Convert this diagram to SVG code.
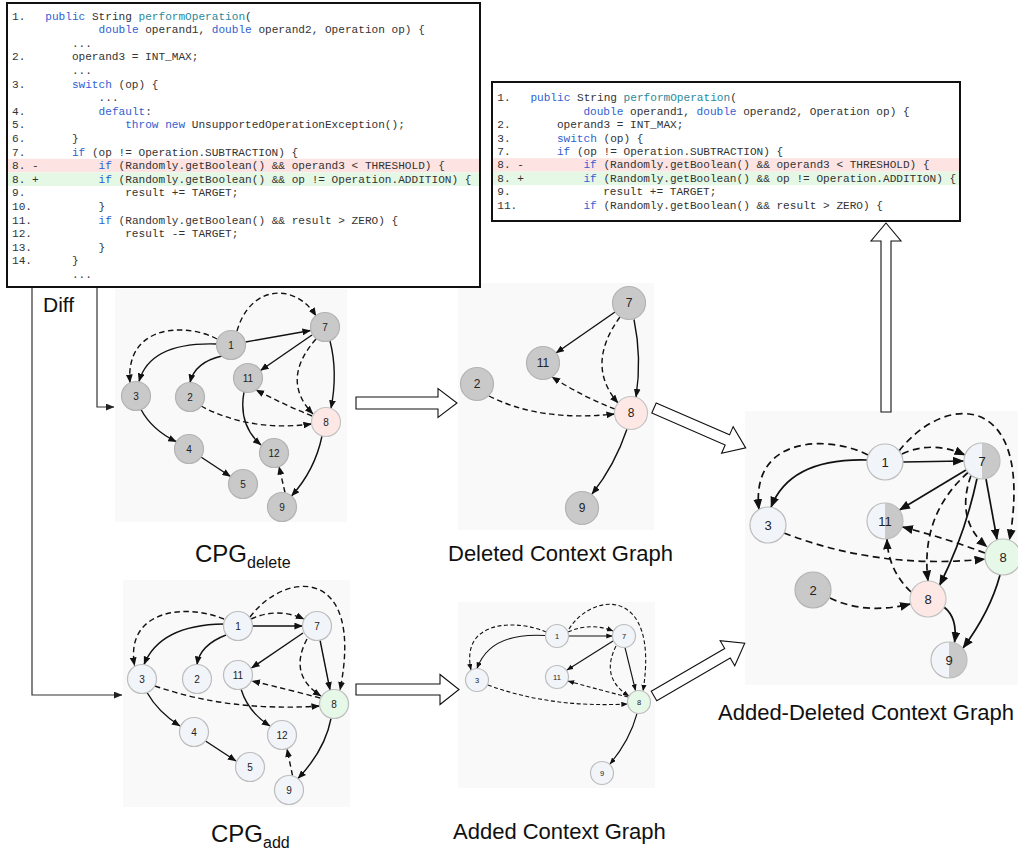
<svg xmlns="http://www.w3.org/2000/svg" width="1018" height="850" viewBox="0 0 1018 850">
<style>
.code{font-family:"Liberation Mono","Courier New",monospace;font-size:11.1px;fill:#333}
.kw{fill:#2f5fd1}
.fn{fill:#2a8a9c}
.box{fill:#fff;stroke:#111;stroke-width:2}
.lbl{font-family:"Liberation Sans",Arial,sans-serif;font-size:22px;fill:#111}
.nl{font-family:"Liberation Sans",Arial,sans-serif;text-anchor:middle;dominant-baseline:central;fill:#222}
.f10{font-size:10px}.f12{font-size:12px}.f13{font-size:13px}.f8{font-size:7.5px}
.g{fill:#c9c9c9;stroke:#b3b3b3;stroke-width:1.2}
.w{fill:#f1f4f8;stroke:#bdbdbd;stroke-width:1.2}
.p{fill:#fde8e5;stroke:#c4c4c4;stroke-width:1.2}
.gr{fill:#e6f8e8;stroke:#bdbdbd;stroke-width:1.2}
.wf{fill:#f1f4f8}.gf{fill:#c9c9c9}
.ring{fill:none;stroke:#bdbdbd;stroke-width:1.2}
.bg{fill:#f9f9f9}
.e{fill:none;stroke:#111}
.s1{stroke-width:1.4;marker-end:url(#am)}
.d1{stroke-dasharray:5.5 3.5}
.s3{stroke-width:1.7;marker-end:url(#al)}
.d3{stroke-dasharray:7 4.5}
.s4{stroke-width:1.1;marker-end:url(#as)}
.d4{stroke-dasharray:4 2.5}
.ha{fill:#fff;stroke:#111;stroke-width:1.1}
.dl{fill:none;stroke:#333;stroke-width:1.2;marker-end:url(#adf)}
</style>
<defs>
<marker id="am" viewBox="0 0 10 8" refX="9.5" refY="4" markerWidth="8.5" markerHeight="7" markerUnits="userSpaceOnUse" orient="auto"><path d="M0,0 L10,4 L0,8 Z" fill="#111"/></marker>
<marker id="al" viewBox="0 0 10 8" refX="9.5" refY="4" markerWidth="11" markerHeight="9" markerUnits="userSpaceOnUse" orient="auto"><path d="M0,0 L10,4 L0,8 Z" fill="#111"/></marker>
<marker id="as" viewBox="0 0 10 8" refX="9.5" refY="4" markerWidth="6.5" markerHeight="5.2" markerUnits="userSpaceOnUse" orient="auto"><path d="M0,0 L10,4 L0,8 Z" fill="#111"/></marker>
<marker id="adf" viewBox="0 0 10 8" refX="9.5" refY="4" markerWidth="9" markerHeight="7" markerUnits="userSpaceOnUse" orient="auto"><path d="M0,0 L10,4 L0,8 Z" fill="#222"/></marker>
</defs>
<rect width="1018" height="850" fill="#fff"/>

<!-- graph backgrounds -->
<rect class="bg" x="115" y="289" width="232" height="233"/>
<rect class="bg" x="458" y="283" width="196" height="247"/>
<rect class="bg" x="745" y="411" width="273" height="274"/>
<rect class="bg" x="123" y="580" width="227" height="227"/>
<rect class="bg" x="458" y="602" width="197" height="186"/>

<!-- code box 1 -->
<g id="code-diff">
<rect class="box" x="7" y="3" width="473" height="284"/>
<rect x="8" y="158.8" width="471" height="13.6" fill="#fde4e3"/>
<rect x="8" y="172.4" width="471" height="13.6" fill="#e5f8e6"/>
<text class="code" x="12" y="19.5">1.</text><text class="code" x="45.3" y="19.5"><tspan class="kw">public</tspan> String <tspan class="fn">performOperation</tspan>(</text>
<text class="code" x="98.6" y="33.1"><tspan class="kw">double</tspan> operand1, <tspan class="kw">double</tspan> operand2, Operation op) {</text>
<text class="code" x="71.9" y="46.7">...</text>
<text class="code" x="12" y="60.3">2.</text><text class="code" x="71.9" y="60.3">operand3 = INT_MAX;</text>
<text class="code" x="71.9" y="73.9">...</text>
<text class="code" x="12" y="87.5">3.</text><text class="code" x="71.9" y="87.5"><tspan class="kw">switch</tspan> (op) {</text>
<text class="code" x="98.6" y="101.1">...</text>
<text class="code" x="12" y="114.7">4.</text><text class="code" x="98.6" y="114.7"><tspan class="kw">default</tspan>:</text>
<text class="code" x="12" y="128.3">5.</text><text class="code" x="125.2" y="128.3"><tspan class="kw">throw</tspan> <tspan class="kw">new</tspan> UnsupportedOperationException();</text>
<text class="code" x="12" y="141.9">6.</text><text class="code" x="71.9" y="141.9">}</text>
<text class="code" x="12" y="155.5">7.</text><text class="code" x="71.9" y="155.5"><tspan class="kw">if</tspan> (op != Operation.SUBTRACTION) {</text>
<text class="code" x="12" y="169.1">8. -</text><text class="code" x="98.6" y="169.1"><tspan class="kw">if</tspan> (Randomly.getBoolean() &amp;&amp; operand3 &lt; THRESHOLD) {</text>
<text class="code" x="12" y="182.7">8. +</text><text class="code" x="98.6" y="182.7"><tspan class="kw">if</tspan> (Randomly.getBoolean() &amp;&amp; op != Operation.ADDITION) {</text>
<text class="code" x="12" y="196.3">9.</text><text class="code" x="125.2" y="196.3">result += TARGET;</text>
<text class="code" x="12" y="209.9">10.</text><text class="code" x="98.6" y="209.9">}</text>
<text class="code" x="12" y="223.5">11.</text><text class="code" x="98.6" y="223.5"><tspan class="kw">if</tspan> (Randomly.getBoolean() &amp;&amp; result &gt; ZERO) {</text>
<text class="code" x="12" y="237.1">12.</text><text class="code" x="125.2" y="237.1">result -= TARGET;</text>
<text class="code" x="12" y="250.7">13.</text><text class="code" x="98.6" y="250.7">}</text>
<text class="code" x="12" y="264.3">14.</text><text class="code" x="71.9" y="264.3">}</text>
<text class="code" x="71.9" y="277.9">...</text>
</g>

<!-- code box 2 -->
<g id="code-context">
<rect class="box" x="492" y="82" width="468" height="139"/>
<rect x="493" y="158.2" width="466" height="13.5" fill="#fde4e3"/>
<rect x="493" y="171.7" width="466" height="13.5" fill="#e5f8e6"/>
<text class="code" x="497.3" y="101.2">1.</text><text class="code" x="530.4" y="101.2"><tspan class="kw">public</tspan> String <tspan class="fn">performOperation</tspan>(</text>
<text class="code" x="583.4" y="114.65"><tspan class="kw">double</tspan> operand1, <tspan class="kw">double</tspan> operand2, Operation op) {</text>
<text class="code" x="497.3" y="128.1">2.</text><text class="code" x="556.9" y="128.1">operand3 = INT_MAX;</text>
<text class="code" x="497.3" y="141.55">3.</text><text class="code" x="556.9" y="141.55"><tspan class="kw">switch</tspan> (op) {</text>
<text class="code" x="497.3" y="155">7.</text><text class="code" x="556.9" y="155"><tspan class="kw">if</tspan> (op != Operation.SUBTRACTION) {</text>
<text class="code" x="497.3" y="168.45">8. -</text><text class="code" x="583.4" y="168.45"><tspan class="kw">if</tspan> (Randomly.getBoolean() &amp;&amp; operand3 &lt; THRESHOLD) {</text>
<text class="code" x="497.3" y="181.9">8. +</text><text class="code" x="583.4" y="181.9"><tspan class="kw">if</tspan> (Randomly.getBoolean() &amp;&amp; op != Operation.ADDITION) {</text>
<text class="code" x="497.3" y="195.35">9.</text><text class="code" x="603.2" y="195.35">result += TARGET;</text>
<text class="code" x="497.3" y="208.8">11.</text><text class="code" x="583.4" y="208.8"><tspan class="kw">if</tspan> (Randomly.getBoolean() &amp;&amp; result &gt; ZERO) {</text>
</g>

<!-- labels -->
<text class="lbl" x="43" y="312" style="font-size:21px">Diff</text>
<text class="lbl" x="195" y="561.5" style="font-size:24px">CPG<tspan style="font-size:16px" dy="6">delete</tspan></text>
<text class="lbl" x="448" y="561">Deleted Context Graph</text>
<text class="lbl" x="718" y="720">Added-Deleted Context Graph</text>
<text class="lbl" x="211" y="841.5" style="font-size:24px">CPG<tspan style="font-size:16px" dy="6">add</tspan></text>
<text class="lbl" x="453" y="839">Added Context Graph</text>

<g id="connectors">
<!-- diff lines -->
<path class="dl" d="M32,288 L32,695 L122,695"/>
<path class="dl" d="M97,288 L97,407 L114,407"/>
<!-- hollow arrows -->
<polygon class="ha" transform="translate(356,403)" points="0,-6 82,-6 82,-14.5 101,0 82,14.5 82,6 0,6"/>
<polygon class="ha" transform="translate(356,689.5)" points="0,-5.5 84,-5.5 84,-15 103,0 84,15 84,5.5 0,5.5"/>
<polygon class="ha" transform="translate(886,412) rotate(-90)" points="0,-5 171,-5 171,-15 189,0 171,15 171,5 0,5"/>
<polygon class="ha" transform="translate(654,408) rotate(23.5)" points="0,-5.5 80,-5.5 80,-14.5 100,0 80,14.5 80,5.5 0,5.5"/>
<polygon class="ha" transform="translate(654,696) rotate(-30.2)" points="0,-5.5 85,-5.5 85,-14.5 105,0 85,14.5 85,5.5 0,5.5"/>

<!-- CPG delete -->
<g id="edges-cpg-delete">
<path class="e s1" d="M245.5,342 L310.5,330.5"/>
<path class="e s1" d="M216.5,344 Q150,342 139,381.5"/>
<path class="e s1" d="M222,356 Q195,362 190,382.5"/>
<path class="e s1" d="M312,335 L260.5,370.5"/>
<path class="e s1" d="M330,341 Q338,372 331,408.4"/>
<path class="e s1" d="M141,409.5 Q152,430 176.4,441.7"/>
<path class="e s1" d="M201,457 L230.5,476.5"/>
<path class="e s1" d="M244,392 Q238,425 261,445"/>
<path class="e s1" d="M322,436 Q315,470 291.5,496"/>
<path class="e s1 d1" d="M217,339 C185,322 125,325 130,382.5"/>
<path class="e s1 d1" d="M237,331 C250,285 295,282 316,316"/>
<path class="e s1 d1" d="M316,339 Q280,380 313,414"/>
<path class="e s1 d1" d="M312,416 Q285,405 256,390"/>
<path class="e s1 d1" d="M201,406 Q250,432 311.5,424"/>
<path class="e s1 d1" d="M285,492.5 L279,466.5"/>
</g>
<!-- Deleted context -->
<g id="edges-deleted">
<path class="e s1" d="M615,312 L556,353"/>
<path class="e s1" d="M634,319.5 Q642,358 636,397"/>
<path class="e s1" d="M627,429 Q615,465 592,494"/>
<path class="e s1 d1" d="M620,317 Q585,365 618,403"/>
<path class="e s1 d1" d="M615,409 Q585,398 552,377"/>
<path class="e s1 d1" d="M489,396 Q540,422 614.5,414"/>
</g>
<!-- Added-Deleted -->
<g id="edges-added-deleted">
<path class="e s3" d="M903,462 L963.5,461"/>
<path class="e s3" d="M867,460 Q790,458 771,507.3"/>
<path class="e s3" d="M966,470 L899.5,510"/>
<path class="e s3" d="M986,479 L997,539.5"/>
<path class="e s3" d="M977,478.5 Q965,535 939.5,585.5"/>
<path class="e s3" d="M944,607 Q958,618 954.5,642.5"/>
<path class="e s3" d="M1000,575 Q990,612 963,648"/>
<path class="e s3 d3" d="M902,454 Q932,440 965,455"/>
<path class="e s3 d3" d="M868,455 C830,435 750,435 759,509.5"/>
<path class="e s3 d3" d="M899,451 C945,392 1035,390 1009.5,540"/>
<path class="e s3 d3" d="M968,472.5 Q920,515 928,581"/>
<path class="e s3 d3" d="M971,475.5 Q955,520 987,547"/>
<path class="e s3 d3" d="M784,533 Q880,570 985,559"/>
<path class="e s3 d3" d="M985,553 Q945,538 902.5,527"/>
<path class="e s3 d3" d="M911,592 Q888,570 887,539"/>
<path class="e s3 d3" d="M830,598 Q865,615 910.5,604"/>
</g>
<!-- CPG add -->
<g id="edges-cpg-add">
<path class="e s1" d="M252.5,626 L302.5,626"/>
<path class="e s1" d="M223.5,624 Q160,625 144,664.6"/>
<path class="e s1" d="M226,635 Q200,645 197,664.5"/>
<path class="e s1" d="M303,633 L251.5,668"/>
<path class="e s1" d="M320,640 L330,690"/>
<path class="e s1" d="M147,692.5 Q158,712 180,726"/>
<path class="e s1" d="M205.5,741 L236,761"/>
<path class="e s1" d="M241,689 Q248,712 270,726"/>
<path class="e s1" d="M331,718.5 Q325,750 298,778.5"/>
<path class="e s1 d1" d="M251,619 Q277,607 304,619"/>
<path class="e s1 d1" d="M250,617 C285,570 365,565 340,690"/>
<path class="e s1 d1" d="M224,619 C185,603 125,610 134.5,665.5"/>
<path class="e s1 d1" d="M307,639 Q288,675 321,696"/>
<path class="e s1 d1" d="M155,686 Q230,712 319.5,706"/>
<path class="e s1 d1" d="M320,698 Q290,690 252,681"/>
<path class="e s1 d1" d="M292.5,775.5 L287,749"/>
</g>
<!-- Added context -->
<g id="edges-added">
<path class="e s4" d="M568.5,636 L612.5,636"/>
<path class="e s4" d="M545.5,635.5 Q490,632 477,668.5"/>
<path class="e s4" d="M613,641 L567,670"/>
<path class="e s4" d="M625,647.5 L635.5,690.5"/>
<path class="e s4" d="M637,713.5 Q630,740 610,764"/>
<path class="e s4 d4" d="M568,632 Q590,622 613,631"/>
<path class="e s4 d4" d="M569,629 C592,592 660,585 643,691"/>
<path class="e s4 d4" d="M546,632 C520,620 460,618 471,670"/>
<path class="e s4 d4" d="M616,646 Q600,678 629,696"/>
<path class="e s4 d4" d="M488,685 Q550,708 627.5,704"/>
<path class="e s4 d4" d="M628,697 Q600,690 568,681"/>
</g>
</g>

<!-- CPG delete nodes -->
<g id="cd-1"><circle class="g" cx="231" cy="345" r="14.5"/><text class="nl f10" x="231" y="345">1</text></g>
<g id="cd-7"><circle class="g" cx="325" cy="327" r="14.5"/><text class="nl f10" x="325" y="327">7</text></g>
<g id="cd-11"><circle class="g" cx="248" cy="378" r="14.5"/><text class="nl f10" x="248" y="378">11</text></g>
<g id="cd-3"><circle class="g" cx="136" cy="396" r="14.5"/><text class="nl f10" x="136" y="396">3</text></g>
<g id="cd-2"><circle class="g" cx="190" cy="397" r="14.5"/><text class="nl f10" x="190" y="397">2</text></g>
<g id="cd-8"><circle class="p" cx="326" cy="422" r="14.5"/><text class="nl f10" x="326" y="422">8</text></g>
<g id="cd-4"><circle class="g" cx="189" cy="449" r="14.5"/><text class="nl f10" x="189" y="449">4</text></g>
<g id="cd-12"><circle class="g" cx="274" cy="453" r="14.5"/><text class="nl f10" x="274" y="453">12</text></g>
<g id="cd-5"><circle class="g" cx="243" cy="484" r="14.5"/><text class="nl f10" x="243" y="484">5</text></g>
<g id="cd-9"><circle class="g" cx="282" cy="507" r="14.5"/><text class="nl f10" x="282" y="507">9</text></g>

<!-- Deleted context nodes -->
<g id="dc-7"><circle class="g" cx="629" cy="303" r="16.5"/><text class="nl f12" x="629" y="303">7</text></g>
<g id="dc-11"><circle class="g" cx="543" cy="363" r="16.5"/><text class="nl f12" x="543" y="363">11</text></g>
<g id="dc-2"><circle class="g" cx="477" cy="384" r="16.5"/><text class="nl f12" x="477" y="384">2</text></g>
<g id="dc-8"><circle class="p" cx="631" cy="413" r="16.5"/><text class="nl f12" x="631" y="413">8</text></g>
<g id="dc-9"><circle class="g" cx="582" cy="508" r="16.5"/><text class="nl f12" x="582" y="508">9</text></g>

<!-- Added-Deleted nodes -->
<g id="ad-1"><circle class="w" cx="885" cy="462" r="18"/><text class="nl f13" x="885" y="462">1</text></g>
<g id="ad-7"><path class="wf" d="M982,443 A18,18 0 0 0 982,479 Z"/><path class="gf" d="M982,443 A18,18 0 0 1 982,479 Z"/><circle class="ring" cx="982" cy="461" r="18"/><text class="nl f13" x="982" y="461">7</text></g>
<g id="ad-3"><circle class="w" cx="768" cy="525" r="18"/><text class="nl f13" x="768" y="525">3</text></g>
<g id="ad-11"><path class="wf" d="M885,503 A18,18 0 0 0 885,539 Z"/><path class="gf" d="M885,503 A18,18 0 0 1 885,539 Z"/><circle class="ring" cx="885" cy="521" r="18"/><text class="nl f13" x="885" y="521">11</text></g>
<g id="ad-8g"><circle class="gr" cx="1003" cy="557" r="18"/><text class="nl f13" x="1003" y="557">8</text></g>
<g id="ad-2"><circle class="g" cx="813" cy="590" r="18"/><text class="nl f13" x="813" y="590">2</text></g>
<g id="ad-8p"><circle class="p" cx="928" cy="599" r="18"/><text class="nl f13" x="928" y="599">8</text></g>
<g id="ad-9"><path class="wf" d="M949,642 A18,18 0 0 0 949,678 Z"/><path class="gf" d="M949,642 A18,18 0 0 1 949,678 Z"/><circle class="ring" cx="949" cy="660" r="18"/><text class="nl f13" x="949" y="660">9</text></g>

<!-- CPG add nodes -->
<g id="ca-1"><circle class="w" cx="238" cy="626" r="14.5"/><text class="nl f10" x="238" y="626">1</text></g>
<g id="ca-7"><circle class="w" cx="317" cy="626" r="14.5"/><text class="nl f10" x="317" y="626">7</text></g>
<g id="ca-3"><circle class="w" cx="142" cy="679" r="14.5"/><text class="nl f10" x="142" y="679">3</text></g>
<g id="ca-2"><circle class="w" cx="197" cy="679" r="14.5"/><text class="nl f10" x="197" y="679">2</text></g>
<g id="ca-11"><circle class="w" cx="238" cy="675" r="14.5"/><text class="nl f10" x="238" y="675">11</text></g>
<g id="ca-8"><circle class="gr" cx="334" cy="704" r="14.5"/><text class="nl f10" x="334" y="704">8</text></g>
<g id="ca-4"><circle class="w" cx="194" cy="732" r="14.5"/><text class="nl f10" x="194" y="732">4</text></g>
<g id="ca-12"><circle class="w" cx="282" cy="735" r="14.5"/><text class="nl f10" x="282" y="735">12</text></g>
<g id="ca-5"><circle class="w" cx="250" cy="767" r="14.5"/><text class="nl f10" x="250" y="767">5</text></g>
<g id="ca-9"><circle class="w" cx="289" cy="790" r="14.5"/><text class="nl f10" x="289" y="790">9</text></g>

<!-- Added context nodes -->
<g id="ac-1"><circle class="w" cx="557" cy="636" r="11.5"/><text class="nl f8" x="557" y="636">1</text></g>
<g id="ac-7"><circle class="w" cx="624" cy="636" r="11.5"/><text class="nl f8" x="624" y="636">7</text></g>
<g id="ac-3"><circle class="w" cx="477" cy="680" r="11.5"/><text class="nl f8" x="477" y="680">3</text></g>
<g id="ac-11"><circle class="w" cx="557" cy="677" r="11.5"/><text class="nl f8" x="557" y="677">11</text></g>
<g id="ac-8"><circle class="gr" cx="639" cy="702" r="11.5"/><text class="nl f8" x="639" y="702">8</text></g>
<g id="ac-9"><circle class="w" cx="602" cy="773" r="11.5"/><text class="nl f8" x="602" y="773">9</text></g>
</svg>
